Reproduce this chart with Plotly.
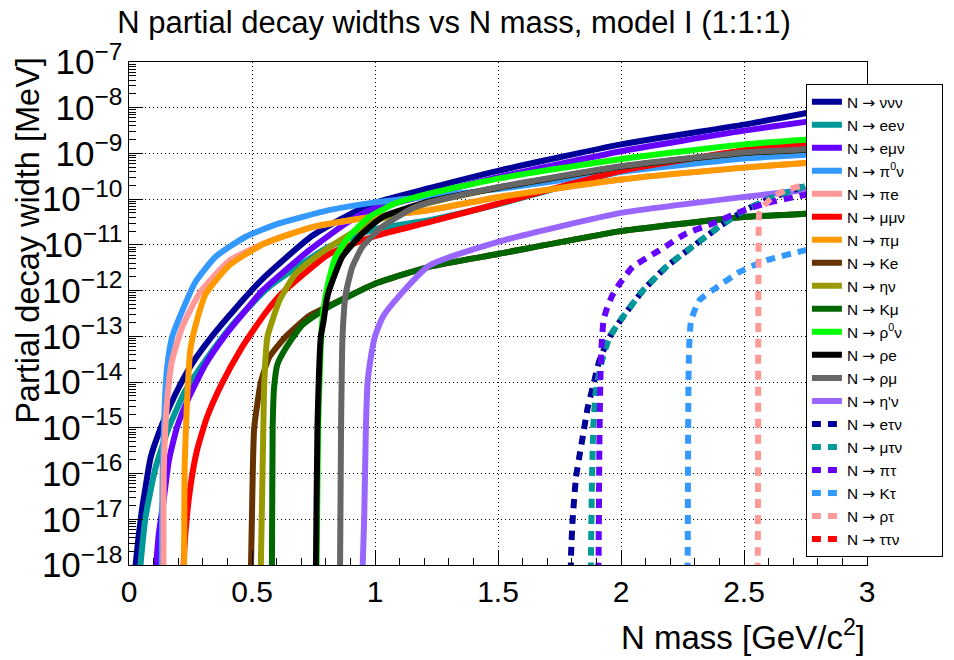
import plotly.graph_objects as go

# ---------------- data ----------------
# N mass in GeV/c^2, partial width in MeV
m_nununu = [0.020, 0.027, 0.040, 0.054, 0.067, 0.088, 0.135, 0.189, 0.256, 0.337, 0.431, 0.542, 0.745, 0.976, 1.22, 1.5, 2.0, 2.5, 2.75, 3.0]
w_nununu = [4.0e-19, 1.02e-18, 4.68e-18, 1.82e-17, 4.90e-17, 2.24e-16, 1.20e-15, 5.50e-15, 2.51e-14, 1.0e-13, 3.98e-13, 1.78e-12, 1.58e-11, 7.59e-11, 1.74e-10, 4.17e-10, 1.58e-9, 4.27e-9, 7.59e-9, 1.20e-8]

m_eenu = [0.043, 0.047, 0.067, 0.108, 0.162, 0.229, 0.31, 0.42, 0.569, 0.813, 1.003, 1.22, 1.5, 2.0, 2.5, 2.75, 3.0]
w_eenu = [3.16e-19, 1.02e-18, 1.10e-17, 1.35e-16, 1.02e-15, 6.46e-15, 2.95e-14, 1.78e-13, 1.20e-12, 9.12e-12, 2.24e-11, 3.47e-11, 7.76e-11, 4.07e-10, 1.15e-9, 1.62e-9, 2.19e-9]

m_emunu = [0.106, 0.111, 0.121, 0.142, 0.162, 0.195, 0.243, 0.31, 0.391, 0.485, 0.542, 0.732, 0.881, 0.976, 1.22, 1.5, 2.0, 2.5, 2.75, 3.0]
w_emunu = [3.16e-19, 1.02e-18, 4.68e-18, 2.95e-17, 1.91e-16, 1.02e-15, 4.57e-15, 2.40e-14, 1.05e-13, 4.37e-13, 1.0e-12, 7.59e-12, 2.95e-11, 5.62e-11, 1.26e-10, 3.02e-10, 1.12e-9, 3.16e-9, 4.90e-9, 7.59e-9]

m_pi0nu = [0.130, 0.133, 0.137, 0.146, 0.155, 0.175, 0.216, 0.271, 0.352, 0.474, 0.61, 0.813, 1.0, 1.25, 1.5, 2.0, 2.5, 2.75, 3.0]
w_pi0nu = [3.16e-19, 1.02e-18, 1.35e-16, 3.89e-15, 2.09e-14, 9.55e-14, 3.55e-13, 1.58e-12, 5.50e-12, 1.51e-11, 2.95e-11, 5.75e-11, 8.51e-11, 1.20e-10, 1.66e-10, 3.98e-10, 7.76e-10, 9.33e-10, 1.12e-9]

m_pie = [0.137, 0.140, 0.1415, 0.155, 0.175, 0.216, 0.285, 0.407, 0.569, 0.745, 1.0, 1.22, 1.5, 2.0, 2.5, 2.75, 3.0]
w_pie = [3.16e-19, 1.02e-18, 1.35e-16, 3.89e-15, 2.95e-14, 1.58e-13, 8.51e-13, 4.47e-12, 1.20e-11, 2.45e-11, 4.17e-11, 5.75e-11, 1.10e-10, 2.69e-10, 4.90e-10, 6.17e-10, 7.59e-10]

m_mumunu = [0.218, 0.222, 0.229, 0.249, 0.276, 0.317, 0.377, 0.458, 0.553, 0.623, 0.813, 1.003, 1.22, 1.5, 2.0, 2.5, 2.75, 3.0]
w_mumunu = [3.16e-19, 1.02e-18, 4.68e-18, 4.90e-17, 3.16e-16, 1.70e-15, 9.12e-15, 5.62e-14, 3.16e-13, 8.91e-13, 6.31e-12, 1.58e-11, 3.16e-11, 7.94e-11, 4.17e-10, 1.17e-9, 1.66e-9, 2.24e-9]

m_pimu = [0.222, 0.224, 0.226, 0.236, 0.249, 0.271, 0.312, 0.407, 0.542, 0.745, 1.0, 1.22, 1.5, 2.0, 2.5, 2.75, 3.0]
w_pimu = [3.16e-19, 1.02e-18, 1.35e-16, 3.89e-15, 4.90e-14, 1.78e-13, 8.51e-13, 3.55e-12, 1.02e-11, 2.45e-11, 4.17e-11, 5.75e-11, 1.10e-10, 2.69e-10, 4.90e-10, 6.17e-10, 7.59e-10]

m_Ke = [0.492, 0.496, 0.503, 0.509, 0.536, 0.57, 0.638, 0.733, 0.81, 1.0, 1.22, 1.5, 2.0, 2.5, 2.75, 3.0]
w_Ke = [3.16e-19, 1.02e-18, 1.0e-16, 1.0e-15, 1.0e-14, 3.47e-14, 1.0e-13, 2.82e-13, 4.57e-13, 1.41e-12, 3.31e-12, 6.31e-12, 2.0e-11, 4.07e-11, 4.79e-11, 5.62e-11]

m_etanu = [0.533, 0.536, 0.546, 0.550, 0.563, 0.586, 0.611, 0.677, 0.759, 0.881, 0.976, 1.084, 1.22, 1.5, 2.0, 2.5, 2.75, 3.0]
w_etanu = [3.16e-19, 1.02e-18, 1.0e-15, 1.0e-14, 1.0e-13, 2.51e-13, 6.03e-13, 2.34e-12, 5.50e-12, 1.51e-11, 2.95e-11, 4.79e-11, 8.32e-11, 1.78e-10, 5.13e-10, 1.02e-9, 1.20e-9, 1.41e-9]

m_Kmu = [0.578, 0.581, 0.584, 0.590, 0.604, 0.638, 0.705, 0.81, 1.0, 1.22, 1.5, 2.0, 2.5, 2.75, 3.0]
w_Kmu = [3.16e-19, 1.02e-18, 1.0e-15, 7.94e-15, 2.51e-14, 5.62e-14, 1.78e-13, 4.37e-13, 1.41e-12, 3.31e-12, 6.31e-12, 2.0e-11, 4.07e-11, 4.79e-11, 5.62e-11]

m_rho0nu = [0.762, 0.763, 0.769, 0.779, 0.786, 0.806, 0.84, 0.894, 0.976, 1.084, 1.22, 1.5, 2.0, 2.5, 2.75, 3.0]
w_rho0nu = [3.16e-19, 1.02e-18, 1.0e-15, 5.01e-14, 2.24e-13, 1.20e-12, 5.50e-12, 1.51e-11, 4.07e-11, 8.13e-11, 1.32e-10, 2.82e-10, 7.59e-10, 1.58e-9, 2.0e-9, 2.40e-9]

m_rhoe = [0.758, 0.760, 0.766, 0.780, 0.790, 0.803, 0.813, 0.867, 0.949, 1.03, 1.22, 1.5, 2.0, 2.5, 2.75, 3.0]
w_rhoe = [3.16e-19, 1.02e-18, 1.0e-15, 1.0e-13, 2.0e-13, 6.03e-13, 1.0e-12, 5.50e-12, 1.78e-11, 4.07e-11, 8.91e-11, 1.78e-10, 5.13e-10, 1.02e-9, 1.20e-9, 1.41e-9]

m_rhomu = [0.856, 0.858, 0.862, 0.868, 0.881, 0.908, 0.949, 1.03, 1.152, 1.22, 1.5, 2.0, 2.5, 2.75, 3.0]
w_rhomu = [3.16e-19, 1.02e-18, 1.0e-15, 1.0e-13, 8.51e-13, 3.31e-12, 9.12e-12, 2.51e-11, 6.31e-11, 8.51e-11, 1.82e-10, 5.25e-10, 1.05e-9, 1.23e-9, 1.45e-9]

m_etapnu = [0.948, 0.950, 0.956, 0.963, 0.970, 0.985, 1.0, 1.031, 1.088, 1.221, 1.5, 2.0, 2.5, 2.75, 3.0]
w_etapnu = [3.16e-19, 1.02e-18, 1.0e-17, 1.0e-15, 1.0e-14, 4.0e-14, 1.0e-13, 2.63e-13, 6.61e-13, 3.55e-12, 1.17e-11, 5.01e-11, 1.12e-10, 1.58e-10, 2.09e-10]

m_etaunu = [1.795, 1.797, 1.803, 1.817, 1.83, 1.844, 1.865, 1.885, 1.912, 1.953, 2.007, 2.089, 2.184, 2.3, 2.4, 2.5, 2.6, 2.75, 3.0]
w_etaunu = [3.16e-19, 1.70e-18, 9.12e-18, 8.13e-17, 2.24e-16, 6.17e-16, 2.82e-15, 7.59e-15, 2.95e-14, 9.55e-14, 2.63e-13, 1.0e-12, 3.31e-12, 1.0e-11, 2.51e-11, 5.62e-11, 1.0e-10, 1.95e-10, 3.98e-10]

m_mutaunu = [1.876, 1.878, 1.882, 1.888, 1.898, 1.919, 1.953, 2.007, 2.089, 2.184, 2.3, 2.4, 2.5, 2.6, 2.75, 3.0]
w_mutaunu = [3.16e-19, 1.70e-18, 6.92e-17, 1.20e-15, 6.46e-15, 2.45e-14, 9.55e-14, 2.63e-13, 1.0e-12, 3.31e-12, 1.0e-11, 2.51e-11, 5.62e-11, 1.0e-10, 1.95e-10, 3.98e-10]

m_pitau = [1.907, 1.909, 1.912, 1.916, 1.921, 1.929, 1.939, 1.965, 1.994, 2.048, 2.156, 2.265, 2.373, 2.482, 2.59, 2.746, 3.0]
w_pitau = [3.16e-19, 1.70e-18, 3.72e-16, 1.07e-14, 6.31e-14, 2.24e-13, 3.55e-13, 7.94e-13, 1.41e-12, 3.31e-12, 7.59e-12, 1.78e-11, 2.95e-11, 5.25e-11, 8.13e-11, 1.23e-10, 2.0e-10]

m_Ktau = [2.269, 2.271, 2.273, 2.276, 2.285, 2.319, 2.386, 2.482, 2.59, 2.746, 3.0]
w_Ktau = [3.16e-19, 1.70e-18, 1.0e-15, 3.98e-14, 2.24e-13, 6.17e-13, 1.15e-12, 2.57e-12, 4.57e-12, 7.59e-12, 1.41e-11]

m_rhotau = [2.554, 2.556, 2.558, 2.560, 2.562, 2.577, 2.617, 2.671, 2.746, 3.0]
w_rhotau = [3.16e-19, 1.70e-18, 1.0e-13, 3.16e-11, 4.90e-11, 6.76e-11, 1.12e-10, 1.58e-10, 2.04e-10, 3.55e-10]

# tau tau nu opens above 3.55 GeV: outside the plotted mass range
m_tautaunu = [3.554, 3.6]
w_tautaunu = [3.16e-19, 1.0e-18]

ARROW = "<span style='font-family:DejaVu Sans'>→</span>"
finals = ["ννν", "eeν", "eμν", "π<sup>0</sup>ν", "πe", "μμν",
          "πμ", "Ke", "ην", "Kμ", "ρ<sup>0</sup>ν", "ρe",
          "ρμ", "η'ν", "eτν", "μτν", "πτ", "Kτ", "ρτ", "ττν"]
labels = ["N " + ARROW + " " + s for s in finals]
labels[0] = labels[0] + "\u00a0" * 8   # widen the legend box like the reference
colors = ["#000099", "#009999", "#6600ff", "#3399ff", "#ff9999", "#ff0000",
          "#ff9900", "#663300", "#999900", "#006600", "#00ff00", "#000000",
          "#666666", "#9966ff", "#000099", "#009999", "#6600ff", "#3399ff", "#ff9999", "#ff0000"]
masses = [m_nununu, m_eenu, m_emunu, m_pi0nu, m_pie, m_mumunu, m_pimu, m_Ke, m_etanu, m_Kmu,
          m_rho0nu, m_rhoe, m_rhomu, m_etapnu, m_etaunu, m_mutaunu, m_pitau, m_Ktau, m_rhotau, m_tautaunu]
widths = [w_nununu, w_eenu, w_emunu, w_pi0nu, w_pie, w_mumunu, w_pimu, w_Ke, w_etanu, w_Kmu,
          w_rho0nu, w_rhoe, w_rhomu, w_etapnu, w_etaunu, w_mutaunu, w_pitau, w_Ktau, w_rhotau, w_tautaunu]
dashed = [False] * 14 + [True] * 6

FONT = "Liberation Sans, Arial, sans-serif"

fig = go.Figure()
for lab, col, xs, ys, d in zip(labels, colors, masses, widths, dashed):
    fig.add_trace(go.Scatter(
        x=xs, y=ys, mode="lines", name=lab,
        line=dict(color=col, width=6, shape="spline", smoothing=0.5,
                  dash="9px,7px" if d else "solid"),
    ))

# the page body adds an 8px offset, so the figure is 8px smaller than the window
fig.update_layout(
    width=946, height=652,
    margin=dict(l=121, r=86, t=54, b=95),
    paper_bgcolor="white", plot_bgcolor="white",
    font=dict(family=FONT, color="black"),
    title=dict(text="N partial decay widths vs N mass, model I (1:1:1)",
               x=0.4715, xref="container", xanchor="center",
               y=0.979, yref="container", yanchor="middle",
               font=dict(size=31, family=FONT, color="black")),
    showlegend=True,
    legend=dict(x=0.916, y=0.956, xanchor="left", yanchor="top",
                bgcolor="white", bordercolor="black", borderwidth=1,
                font=dict(size=15.4, family=FONT, color="black"),
                itemwidth=30, tracegroupgap=0),
)

fig.update_xaxes(
    range=[0, 3], dtick=0.5, tick0=0, automargin=False,
    showline=True, linecolor="black", linewidth=1, mirror=True,
    ticks="inside", ticklen=15, tickcolor="black", tickwidth=1,
    minor=dict(dtick=0.1, ticks="inside", ticklen=7, tickcolor="black", showgrid=False),
    showgrid=True, gridcolor="black", gridwidth=1, griddash="1px,3px",
    zeroline=False,
    tickfont=dict(size=30, family=FONT, color="black"),
)
fig.update_yaxes(
    type="log", range=[-18, -7], dtick=1, automargin=False,
    exponentformat="power", showexponent="all",
    showline=True, linecolor="black", linewidth=1, mirror=True,
    ticks="inside", ticklen=14, tickcolor="black", tickwidth=1,
    minor=dict(dtick="D1", ticks="inside", ticklen=7, tickcolor="black", showgrid=False),
    showgrid=True, gridcolor="black", gridwidth=1, griddash="1px,3px",
    zeroline=False,
    tickfont=dict(size=28, family=FONT, color="black"),
)

fig.add_annotation(text="Partial decay width [MeV]", textangle=-90,
                   xref="paper", yref="paper", x=-0.137, y=1.015,
                   xanchor="center", yanchor="top", showarrow=False,
                   font=dict(size=32.5, family=FONT, color="black"))
fig.add_annotation(text="N mass [GeV/c<sup>2</sup>]",
                   xref="paper", yref="paper", x=1.0, y=-0.139,
                   xanchor="right", yanchor="middle", showarrow=False,
                   font=dict(size=33, family=FONT, color="black"))

fig.write_html("out.html")
